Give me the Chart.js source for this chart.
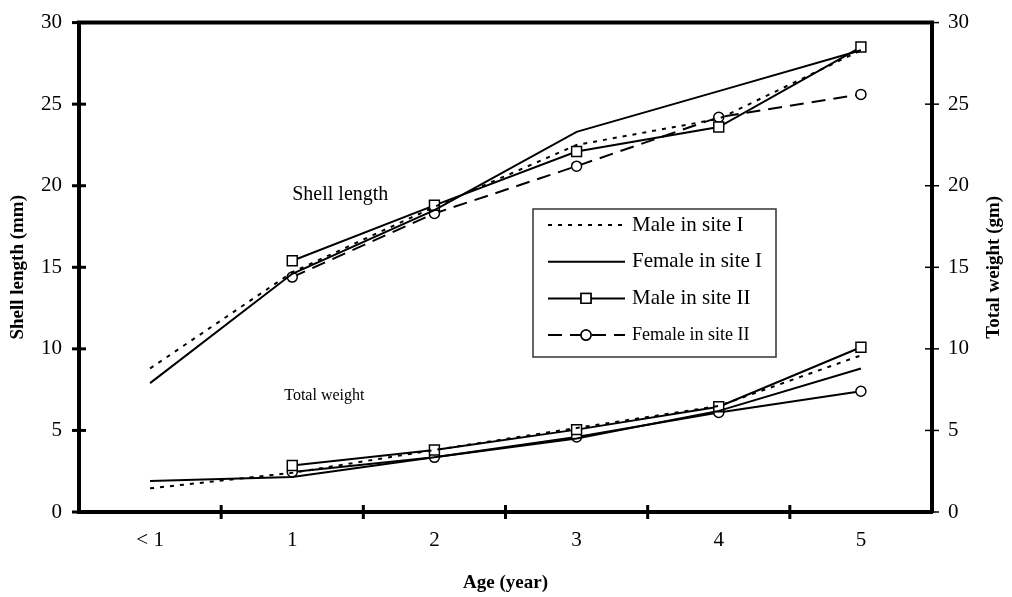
<!DOCTYPE html>
<html>
<head>
<meta charset="utf-8">
<script src="https://cdn.jsdelivr.net/npm/chart.js@4/dist/chart.umd.min.js"></script>
<style>
  body { margin: 0; background: #fff; }
</style>
</head>
<body>
<canvas id="myChart" width="1012" height="597"></canvas>
<script>
const ages = ['< 1', '1', '2', '3', '4', '5'];
const yTicks = [0, 5, 10, 15, 20, 25, 30];

// shell length (mm), left axis
const maleSiteILength = [8.8, 14.7, 18.7, 22.5, 24.1, 28.3];
const femaleSiteILength = [7.9, 14.6, 18.5, 23.3, 25.8, 28.3];
const maleSiteIILength = [null, 15.4, 18.8, 22.1, 23.6, 28.5];
const femaleSiteIILength = [null, 14.4, 18.3, 21.2, 24.2, 25.6];

// total weight (gm), right axis
const maleSiteIWeight = [1.45, 2.4, 3.8, 5.15, 6.5, 9.6];
const femaleSiteIWeight = [1.9, 2.15, 3.35, 4.5, 6.2, 8.8];
const maleSiteIIWeight = [null, 2.85, 3.8, 5.05, 6.45, 10.1];
const femaleSiteIIWeight = [null, 2.45, 3.35, 4.6, 6.1, 7.4];

const serif = '"Liberation Serif", "Times New Roman", serif';
const black = '#000';

const styles = {
  maleI: { borderDash: [4, 6], pointRadius: 0, pointStyle: false },
  femaleI: { borderDash: [], pointRadius: 0, pointStyle: false },
  maleII: { borderDash: [], pointRadius: 7, pointStyle: 'rect' },
  femaleII: { borderDash: [14, 8], pointRadius: 5, pointStyle: 'circle' },
  // the weight curve of females in site II is drawn solid in the figure
  femaleIIWeight: { borderDash: [], pointRadius: 5, pointStyle: 'circle' }
};

let makeSet = (label, data, style, axis) => ({
  label: label,
  data: data,
  yAxisID: axis,
  borderColor: black,
  borderWidth: 2,
  borderDash: style.borderDash,
  pointRadius: style.pointRadius,
  pointStyle: style.pointStyle,
  pointBackgroundColor: '#fff',
  pointBorderColor: black,
  pointBorderWidth: 1.5,
  tension: 0,
  fill: false
});

const legendItems = [
  { text: 'Male in site I', style: styles.maleI, size: 21 },
  { text: 'Female in site I', style: styles.femaleI, size: 21 },
  { text: 'Male in site II', style: styles.maleII, size: 21 },
  { text: 'Female in site II', style: styles.femaleII, size: 18 }
];

const decor = {
  id: 'decor',
  afterDraw(chart) {
    const { ctx, chartArea: a, scales } = chart;
    const line = (x1, y1, x2, y2) => {
      ctx.beginPath(); ctx.moveTo(x1, y1); ctx.lineTo(x2, y2); ctx.stroke();
    };
    ctx.save();
    ctx.strokeStyle = black;

    // top frame line
    ctx.lineWidth = 4;
    line(a.left - 2, a.top, a.right + 2, a.top);

    // tick marks crossing the axes
    ctx.lineWidth = 3;
    const x = scales.x;
    for (let i = 0; i < ages.length - 1; i++) {
      const px = (x.getPixelForValue(i) + x.getPixelForValue(i + 1)) / 2;
      line(px, a.bottom - 7, px, a.bottom + 7);
    }
    scales.y.ticks.forEach(t => {
      const py = scales.y.getPixelForValue(t.value);
      line(a.left - 7, py, a.left + 7, py);
    });
    ctx.lineWidth = 1.5;
    scales.y2.ticks.forEach(t => {
      const py = scales.y2.getPixelForValue(t.value);
      line(a.right - 7, py, a.right + 7, py);
    });

    // right axis title, reading bottom to top
    ctx.fillStyle = black;
    ctx.save();
    ctx.translate(994, (a.top + a.bottom) / 2);
    ctx.rotate(-Math.PI / 2);
    ctx.font = 'bold 19px ' + serif;
    ctx.textAlign = 'center';
    ctx.textBaseline = 'middle';
    ctx.fillText('Total weight (gm)', 0, 0);
    ctx.restore();

    // in-plot notes
    ctx.textAlign = 'left';
    ctx.textBaseline = 'middle';
    ctx.font = '20px ' + serif;
    ctx.fillText('Shell length', x.getPixelForValue(1), scales.y.getPixelForValue(19.45));
    ctx.font = '16px ' + serif;
    ctx.fillText('Total weight', x.getPixelForValue(1) - 8, scales.y.getPixelForValue(7.1));

    // legend box
    const bx = 533, by = 209, bw = 243, bh = 148;
    ctx.lineWidth = 1.5;
    ctx.strokeStyle = '#333';
    ctx.strokeRect(bx, by, bw, bh);
    ctx.strokeStyle = black;
    legendItems.forEach((item, i) => {
      const ly = 225 + i * 36.7;
      ctx.lineWidth = 2;
      ctx.setLineDash(item.style.borderDash);
      line(548, ly, 625, ly);
      ctx.setLineDash([]);
      if (item.style.pointStyle) {
        ctx.fillStyle = '#fff';
        ctx.lineWidth = 1.5;
        Chart.helpers.drawPoint(ctx, {
          pointStyle: item.style.pointStyle,
          radius: item.style.pointRadius,
          borderWidth: 1.5
        }, 586, ly);
        ctx.fill();
        ctx.stroke();
      }
      ctx.fillStyle = black;
      ctx.font = item.size + 'px ' + serif;
      ctx.textBaseline = 'middle';
      ctx.fillText(item.text, 632, ly);
    });
    ctx.restore();
  }
};

const tickFont = { family: serif, size: 21 };

const data = {
  labels: ages,
  datasets: [
    makeSet('Male in site I', maleSiteILength, styles.maleI, 'y'),
    makeSet('Female in site I', femaleSiteILength, styles.femaleI, 'y'),
    makeSet('Male in site II', maleSiteIILength, styles.maleII, 'y'),
    makeSet('Female in site II', femaleSiteIILength, styles.femaleII, 'y'),
    makeSet('Male in site I (weight)', maleSiteIWeight, styles.maleI, 'y2'),
    makeSet('Female in site I (weight)', femaleSiteIWeight, styles.femaleI, 'y2'),
    makeSet('Male in site II (weight)', maleSiteIIWeight, styles.maleII, 'y2'),
    makeSet('Female in site II (weight)', femaleSiteIIWeight, styles.femaleIIWeight, 'y2')
  ]
};

const config = {
  type: 'line',
  data: data,
  options: {
    responsive: false,
    animation: false,
    devicePixelRatio: 1,
    layout: { padding: { top: 20, left: 0, right: 0, bottom: 0 } },
    plugins: {
      legend: { display: false },
      tooltip: { enabled: false }
    },
    scales: {
      x: {
        type: 'category',
        offset: true,
        grid: { offset: true, drawOnChartArea: false, tickLength: 7, tickColor: 'transparent' },
        border: { color: black, width: 4 },
        ticks: { font: tickFont, color: black, padding: 9, maxRotation: 0 },
        title: { display: true, text: 'Age (year)', color: black, font: { family: serif, size: 19, weight: 'bold' }, padding: { top: 4, bottom: 3 } },
        afterFit: s => { s.height = 85; }
      },
      y: {
        position: 'left',
        min: 0,
        max: 30,
        afterBuildTicks: s => { s.ticks = yTicks.map(v => ({ value: v })); },
        grid: { drawOnChartArea: false, tickLength: 7, tickColor: 'transparent' },
        border: { color: black, width: 4 },
        ticks: { font: tickFont, color: black, padding: 10 },
        title: { display: true, text: 'Shell length (mm)', color: black, font: { family: serif, size: 19, weight: 'bold' }, padding: { top: 7, bottom: 0 } },
        afterFit: s => { s.width = 79; }
      },
      y2: {
        position: 'right',
        min: 0,
        max: 30,
        afterBuildTicks: s => { s.ticks = yTicks.map(v => ({ value: v })); },
        grid: { drawOnChartArea: false, tickLength: 7, tickColor: 'transparent' },
        border: { color: black, width: 4 },
        ticks: { font: tickFont, color: black, padding: 9 },
        afterFit: s => { s.width = 80; }
      }
    }
  },
  plugins: [decor]
};

new Chart(document.getElementById('myChart'), config);
</script>
</body>
</html>
